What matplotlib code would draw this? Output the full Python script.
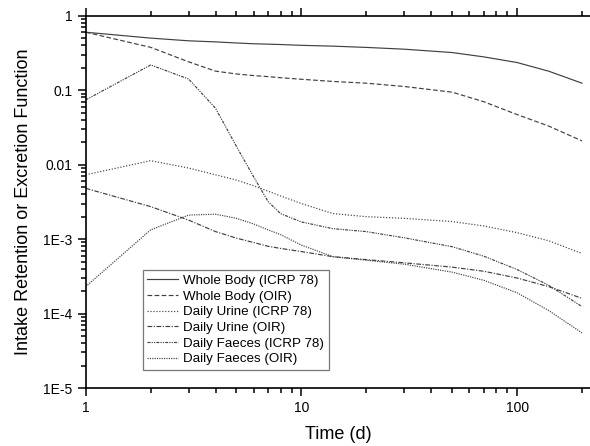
import matplotlib
matplotlib.use('Agg')
import matplotlib.pyplot as plt
from matplotlib.ticker import LogLocator, NullFormatter, FixedLocator, FixedFormatter
import numpy as np

plt.rcParams['font.family'] = ['Liberation Sans', 'DejaVu Sans']

# time points (d)
t = [1, 2, 3, 4, 5, 6, 7, 8, 10, 14, 20, 30, 50, 70, 100, 140, 200]

# intake retention / excretion functions
wb_icrp = [0.60, 0.50, 0.46, 0.445, 0.43, 0.42, 0.415, 0.41, 0.40, 0.39, 0.375,
           0.355, 0.32, 0.28, 0.235, 0.18, 0.124]
wb_oir = [0.60, 0.376, 0.24, 0.18, 0.165, 0.157, 0.152, 0.147, 0.140, 0.131, 0.124,
          0.112, 0.094, 0.070, 0.047, 0.033, 0.0208]
urine_icrp = [0.0073, 0.0113, 0.0090, 0.0073, 0.0062, 0.0052, 0.0044, 0.0038, 0.0030,
              0.0022, 0.0020, 0.0019, 0.00172, 0.00150, 0.00122, 0.00095, 0.00064]
urine_oir = [0.0048, 0.00273, 0.0018, 0.00126, 0.00103, 0.0009, 0.0008, 0.00075, 0.00068,
             0.00058, 0.00053, 0.00048, 0.00042, 0.00037, 0.00030, 0.00023, 0.00016]
faeces_icrp = [0.074, 0.218, 0.141, 0.057, 0.0175, 0.0069, 0.0032, 0.0022, 0.0017,
               0.00138, 0.00126, 0.00104, 0.00079, 0.00059, 0.00039, 0.00024, 0.000124]
faeces_oir = [0.00023, 0.00133, 0.0021, 0.00216, 0.0019, 0.0016, 0.00133, 0.00115, 0.00083,
              0.00058, 0.00052, 0.00046, 0.00036, 0.00028, 0.00019, 0.00011, 0.000055]

labels = ['Whole Body (ICRP 78)', 'Whole Body (OIR)', 'Daily Urine (ICRP 78)',
          'Daily Urine (OIR)', 'Daily Faeces (ICRP 78)', 'Daily Faeces (OIR)']
series = [wb_icrp, wb_oir, urine_icrp, urine_oir, faeces_icrp, faeces_oir]
dashes = [None, (4, 2), (1, 1.5), (4, 1.3, 1, 1.3), (2.5, 1, 1, 1, 1, 1), (1, 1)]

fig = plt.figure(figsize=(5.9, 4.46), dpi=100)
ax = fig.add_axes([0.1453, 0.130, 1 - 0.1453, 0.8348])

for y, lab, d in zip(series, labels, dashes):
    line, = ax.plot(t, y, color='#404040', linewidth=0.85, label=lab)
    if d is not None:
        line.set_dashes(d)

ax.set_xscale('log')
ax.set_yscale('log')
ax.set_xlim(1, 10 ** ((590 - 85.7) / 215.7))
ax.set_ylim(1e-5, 1)

ax.xaxis.set_major_locator(FixedLocator([1, 10, 100]))
ax.xaxis.set_major_formatter(FixedFormatter(['1', '10', '100']))
ax.xaxis.set_minor_locator(LogLocator(base=10, subs=np.arange(2, 10), numticks=20))
ax.xaxis.set_minor_formatter(NullFormatter())

ax.yaxis.set_major_locator(FixedLocator([1e-5, 1e-4, 1e-3, 1e-2, 1e-1, 1]))
ax.yaxis.set_major_formatter(FixedFormatter(['1E-5', '1E-4', '1E-3', '0.01', '0.1', '1']))
ax.yaxis.set_minor_locator(LogLocator(base=10, subs=np.arange(2, 10), numticks=20))
ax.yaxis.set_minor_formatter(NullFormatter())

ax.spines['right'].set_visible(False)
for s in ['left', 'top', 'bottom']:
    ax.spines[s].set_linewidth(1.2)

ax.tick_params(which='both', direction='out', top=True, right=False, labelsize=10, width=1.1)
ax.tick_params(which='major', length=6)
ax.tick_params(which='minor', length=3.5)

ax.set_xlabel('Time (d)', fontsize=13, labelpad=8)
ax.set_ylabel('Intake Retention or Excretion Function', fontsize=13, labelpad=8)

leg = ax.legend(loc='lower left', bbox_to_anchor=(0.113, 0.048), fontsize=9.6,
                frameon=True, fancybox=False, edgecolor='#555555',
                handlelength=2.3, handletextpad=0.4, labelspacing=0.25,
                borderpad=0.35, borderaxespad=0)
leg.get_frame().set_linewidth(0.9)

fig.savefig('out.png', dpi=100)
